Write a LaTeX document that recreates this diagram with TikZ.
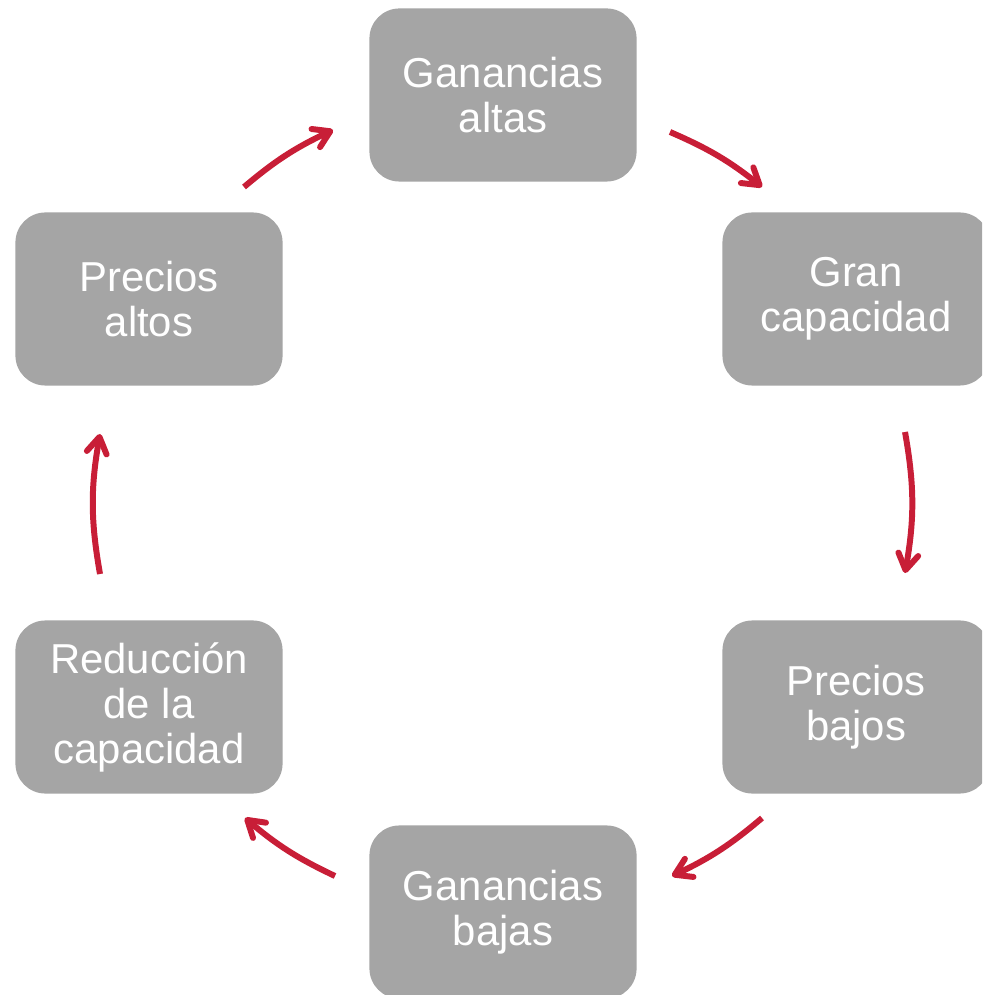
\documentclass[tikz,border=0pt]{standalone}
\usepackage{fontspec}
\setmainfont{Liberation Sans}
\usetikzlibrary{arrows.meta}

\definecolor{gris}{HTML}{A5A5A5}
\definecolor{rojo}{RGB}{200,30,55}

\tikzset{
	caja/.style={fill=gris,text=white,rounded corners=0.3cm,minimum width=2.67cm,minimum height=1.73cm,align=center,font=\fontsize{11.9}{12.8}\selectfont},
	flecha/.style={draw=rojo,line width=1.7pt,-{Straight Barb[length=1.6mm,width=2.0mm,round]}}
}

\begin{document}
\begin{tikzpicture}[x=0.01cm,y=-0.01cm]
			\useasboundingbox (0,0) rectangle (982,995);
			\clip (0,0) rectangle (982,995);

			\node[caja] (galtas) at (503,95) {Ganancias\\altas};
			\node[caja] (gcap) at (856,299) {Gran\\capacidad};
			\node[caja] (pbajos) at (856,707) {Precios\\bajos};
			\node[caja] (gbajas) at (503,912) {Ganancias\\bajas};
			\node[caja] (redcap) at (149,707) {Reducción\\de la\\capacidad};
			\node[caja] (paltos) at (149,299) {Precios\\altos};

			\coordinate (a1) at (670,132); \coordinate (b1) at (762,187);
			\coordinate (a2) at (905,432); \coordinate (b2) at (905,573);
			\coordinate (a3) at (762,818); \coordinate (b3) at (672,876);
			\coordinate (a4) at (335,876); \coordinate (b4) at (245,818);
			\coordinate (a5) at (100,574); \coordinate (b5) at (100,434);
			\coordinate (a6) at (244,187); \coordinate (b6) at (333,130);

			\draw[flecha] (a1) to[bend left=7.5] (b1);
			\draw[flecha] (a2) to[bend left=10] (b2);
			\draw[flecha] (a3) to[bend left=7.5] (b3);
			\draw[flecha] (a4) to[bend left=7.5] (b4);
			\draw[flecha] (a5) to[bend left=10] (b5);
			\draw[flecha] (a6) to[bend left=7.5] (b6);

			% \draw[help lines,step=100] (0,0) grid (982,995);
		\end{tikzpicture}
\end{document}
